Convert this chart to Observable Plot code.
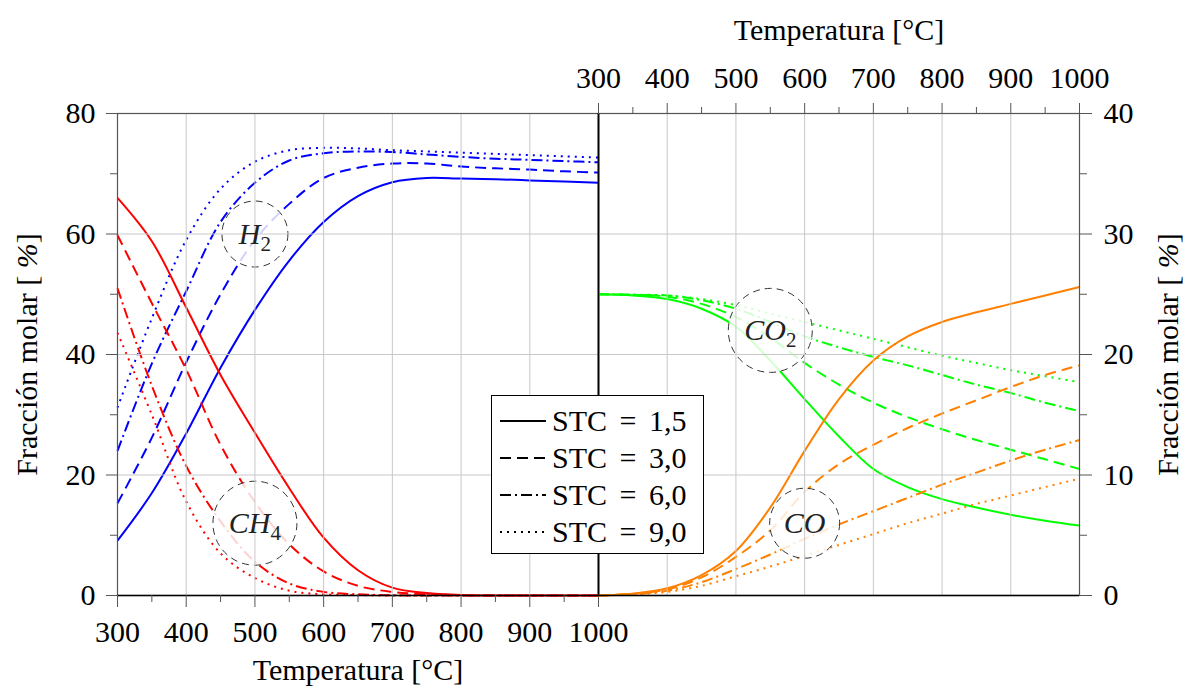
<!DOCTYPE html>
<html>
<head>
<meta charset="utf-8">
<script src="https://cdn.jsdelivr.net/npm/d3@7"></script>
<script src="https://cdn.jsdelivr.net/npm/@observablehq/plot@0.6"></script>
<style>
  html, body { margin: 0; padding: 0; background: #fff; overflow: hidden; }
  #chart { position: relative; width: 1184px; height: 688px; font-family: "Liberation Serif", serif; }
  #chart svg { position: absolute; left: 0; top: 0; }
  #legend { position: absolute; left: 491px; top: 395px; width: 213px; height: 159px; box-sizing: border-box;
            border: 1.5px solid #000; background: #fff; z-index: 5; }
  #legend .row { position: absolute; left: 0; height: 37px; display: flex; align-items: center; }
  #legend .row svg { position: static; margin-left: 8px; }
  #legend .row span { font-family: "Liberation Serif", serif; font-size: 30px; margin-left: 6px; word-spacing: 5px; line-height: 37px; }
</style>
</head>
<body>
<div id="chart"></div>
<script>
// Temperature grid [°C]
const temperatura = [300, 350, 400, 450, 500, 550, 600, 650, 700, 750, 800, 850, 900, 950, 1000];
// Steam-to-carbon ratios
const stcValues = ["1,5", "3,0", "6,0", "9,0"];

// H2 molar fraction [%] (left axis)
const h2_stc15 = [9.1, 17.0, 26.9, 37.8, 47.4, 55.6, 62.0, 66.3, 68.6, 69.3, 69.2, 69.1, 68.9, 68.7, 68.5];
const h2_stc30 = [15.3, 26.2, 38.7, 50.0, 59.0, 65.0, 69.3, 71.0, 71.7, 71.7, 71.2, 70.9, 70.7, 70.4, 70.2];
const h2_stc60 = [24.0, 38.5, 50.5, 62.0, 68.5, 72.2, 73.4, 73.7, 73.6, 73.2, 72.8, 72.5, 72.3, 72.1, 71.9];
const h2_stc90 = [31.2, 46.0, 59.0, 67.5, 72.0, 73.9, 74.3, 74.2, 73.9, 73.7, 73.5, 73.3, 73.1, 72.9, 72.7];

// CH4 molar fraction [%] (left axis)
const ch4_stc15 = [66.0, 58.8, 47.8, 36.6, 27.0, 17.8, 9.6, 4.2, 1.3, 0.4, 0.1, 0, 0, 0, 0];
const ch4_stc30 = [59.8, 48.5, 37.5, 25.0, 15.5, 8.5, 4.0, 1.6, 0.6, 0.2, 0.05, 0, 0, 0, 0];
const ch4_stc60 = [51.0, 34.8, 21.5, 12.3, 5.6, 2.0, 0.6, 0.2, 0.05, 0, 0, 0, 0, 0, 0];
const ch4_stc90 = [43.6, 30.0, 15.6, 7.0, 2.9, 0.8, 0.2, 0.05, 0, 0, 0, 0, 0, 0, 0];

// CO2 molar fraction [%] (right axis)
const co2_stc15 = [25.0, 24.9, 24.6, 23.8, 22.3, 19.5, 16.3, 13.2, 10.5, 9.0, 8.0, 7.3, 6.7, 6.2, 5.8];
const co2_stc30 = [25.0, 24.95, 24.8, 24.2, 23.1, 21.4, 19.3, 17.5, 16.0, 14.8, 13.8, 12.9, 12.1, 11.3, 10.5];
const co2_stc60 = [25.0, 24.95, 24.9, 24.5, 23.8, 22.7, 21.5, 20.6, 19.8, 19.1, 18.3, 17.5, 16.8, 16.0, 15.3];
const co2_stc90 = [25.0, 24.97, 24.9, 24.6, 24.1, 23.4, 22.7, 22.0, 21.3, 20.6, 19.9, 19.3, 18.7, 18.2, 17.7];

// CO molar fraction [%] (right axis)
const co_stc15 = [0, 0.15, 0.6, 1.7, 3.7, 7.3, 12.0, 16.3, 19.5, 21.5, 22.7, 23.5, 24.2, 24.9, 25.6];
const co_stc30 = [0, 0.15, 0.5, 1.5, 3.2, 5.4, 8.6, 10.9, 12.5, 13.9, 15.1, 16.2, 17.3, 18.3, 19.1];
const co_stc60 = [0, 0.1, 0.4, 1.1, 2.2, 3.4, 4.7, 5.9, 7.0, 8.1, 9.2, 10.2, 11.2, 12.1, 12.9];
const co_stc90 = [0, 0.1, 0.3, 0.8, 1.6, 2.4, 3.3, 4.2, 5.1, 6.0, 6.8, 7.6, 8.3, 9.0, 9.7];

// Ticks
const tempMajor = [300, 400, 500, 600, 700, 800, 900, 1000];
const tempMinor = [350, 450, 550, 650, 750, 850, 950];
const tempGrid = [400, 500, 600, 700, 800, 900];
const leftMajor = [0, 20, 40, 60, 80];
const leftMinor = [10, 30, 50, 70];
const leftGrid = [20, 40, 60];
const rightMajor = [0, 10, 20, 30, 40];
const rightMinor = [5, 15, 25, 35];
const rightGrid = [10, 20, 30];

// Species tags drawn in dashed circles
const leftTags = [
  {name: "H_2", T: 500, v: 60, r: 33},
  {name: "CH_4", T: 500, v: 12, r: 42}
];
const rightTags = [
  {name: "CO_2", T: 550, v: 22, r: 42},
  {name: "CO", T: 600, v: 6, r: 35}
];

const xTitle = "Temperatura [°C]";
const yTitle = "Fracción molar [ %]";

const dashes = {"1,5": null, "3,0": "11,6", "6,0": "11,4,2,4", "9,0": "2,5"};
const colors = {h2: "#0000ff", ch4: "#ff0000", co2: "#00ff00", co: "#ff8000"};
const font = "Liberation Serif";
const tickColor = "#555";

function series(values, stc) {
  return temperatura.map((T, i) => ({T, v: values[i], stc}));
}

function curves(list, color) {
  return list.map((vals, i) => {
    const stc = stcValues[i];
    const opts = {x: "T", y: "v", stroke: color, strokeWidth: 2, strokeLinecap: "butt", curve: "catmull-rom"};
    if (dashes[stc]) opts.strokeDasharray = dashes[stc];
    return Plot.line(series(vals, stc), opts);
  });
}

const fmt = d => String(d);
const txt = {fontFamily: font, fontSize: 30, fill: "#000"};

const left = Plot.plot({
  width: 1184, height: 688,
  marginLeft: 117, marginRight: 586, marginTop: 113, marginBottom: 93,
  x: {domain: [300, 1000]},
  y: {domain: [0, 80]},
  r: {type: "identity"},
  style: {fontFamily: font, fontSize: "30px", background: "transparent", color: "#000", overflow: "visible"},
  marks: [
    ...curves([h2_stc15, h2_stc30, h2_stc60, h2_stc90], colors.h2),
    ...curves([ch4_stc15, ch4_stc30, ch4_stc60, ch4_stc90], colors.ch4),
    Plot.dot(leftTags, {x: "T", y: "v", r: "r", fill: "white", fillOpacity: 0.82, stroke: "#333", strokeWidth: 1, strokeDasharray: "7,5"}),
    Plot.ruleX(tempGrid, {stroke: "#c8c8c8", strokeWidth: 1}),
    Plot.ruleY(leftGrid, {stroke: "#c8c8c8", strokeWidth: 1}),
    Plot.text(leftTags, {x: "T", y: "v", text: "name", ...txt, fill: "#222"}),
    Plot.frame({stroke: tickColor, strokeWidth: 1.2}),
    Plot.ruleY([0], {stroke: "#000", strokeWidth: 1.5}),
    Plot.ruleX([1000], {stroke: "#000", strokeWidth: 1.5}),
    Plot.axisX(tempMajor, {anchor: "bottom", tickSize: 12, tickPadding: 13, stroke: tickColor, tickFormat: fmt, label: null, ...txt}),
    Plot.axisX(tempMinor, {anchor: "bottom", tickSize: 7, stroke: tickColor, tickFormat: () => "", label: null}),
    Plot.axisY(leftMajor, {anchor: "left", tickSize: 11, tickPadding: 11, stroke: tickColor, tickFormat: fmt, label: null, ...txt}),
    Plot.axisY(leftMinor, {anchor: "left", tickSize: 7, stroke: tickColor, tickFormat: () => "", label: null}),
    Plot.text([xTitle], {text: d => d, frameAnchor: "bottom", lineAnchor: "middle", dy: 75, ...txt}),
    Plot.text([yTitle], {text: d => d, frameAnchor: "left", textAnchor: "middle", lineAnchor: "middle", rotate: -90, dx: -90, ...txt})
  ]
});

const right = Plot.plot({
  width: 1184, height: 688,
  marginLeft: 598, marginRight: 105, marginTop: 113, marginBottom: 93,
  x: {domain: [300, 1000]},
  y: {domain: [0, 40]},
  r: {type: "identity"},
  style: {fontFamily: font, fontSize: "30px", background: "transparent", color: "#000", overflow: "visible"},
  marks: [
    ...curves([co2_stc15, co2_stc30, co2_stc60, co2_stc90], colors.co2),
    ...curves([co_stc15, co_stc30, co_stc60, co_stc90], colors.co),
    Plot.dot(rightTags, {x: "T", y: "v", r: "r", fill: "white", fillOpacity: 0.82, stroke: "#333", strokeWidth: 1, strokeDasharray: "7,5"}),
    Plot.ruleX(tempGrid, {stroke: "#c8c8c8", strokeWidth: 1}),
    Plot.ruleY(rightGrid, {stroke: "#c8c8c8", strokeWidth: 1}),
    Plot.text(rightTags, {x: "T", y: "v", text: "name", ...txt, fill: "#222"}),
    Plot.frame({stroke: tickColor, strokeWidth: 1.2}),
    Plot.ruleY([0], {stroke: "#000", strokeWidth: 1.5}),
    Plot.ruleX([300], {stroke: "#000", strokeWidth: 1.5}),
    Plot.axisX(tempMajor, {anchor: "top", tickSize: 11, tickPadding: 15, stroke: tickColor, tickFormat: fmt, label: null, ...txt}),
    Plot.axisX(tempMinor, {anchor: "top", tickSize: 7, stroke: tickColor, tickFormat: () => "", label: null}),
    Plot.axisY(rightMajor, {anchor: "right", tickSize: 12, tickPadding: 12, stroke: tickColor, tickFormat: fmt, label: null, ...txt}),
    Plot.axisY(rightMinor, {anchor: "right", tickSize: 7, stroke: tickColor, tickFormat: () => "", label: null}),
    Plot.text([xTitle], {text: d => d, frameAnchor: "top", lineAnchor: "middle", dy: -83, ...txt}),
    Plot.text([yTitle], {text: d => d, frameAnchor: "right", textAnchor: "middle", lineAnchor: "middle", rotate: -90, dx: 89, ...txt})
  ]
});

// Math-style labels: italic letters with upright subscripts, italic percent sign
function typeset(svg) {
  d3.select(svg).selectAll("text").each(function () {
    const el = d3.select(this);
    if (this.querySelector("tspan")) return;
    const s = this.textContent;
    if (leftTags.concat(rightTags).some(t => t.name === s)) {
      const [base, sub] = s.split("_");
      el.text(null);
      el.append("tspan").attr("font-style", "italic").text(base);
      if (sub) {
        el.append("tspan").attr("font-size", 21).attr("dy", 7).text(sub);
      }
    } else if (s === yTitle) {
      const i = s.indexOf("%");
      el.text(null);
      el.append("tspan").text(s.slice(0, i));
      el.append("tspan").attr("font-style", "italic").text("%");
      el.append("tspan").text(s.slice(i + 1));
    }
  });
}
typeset(left);
typeset(right);

const chart = document.getElementById("chart");
chart.appendChild(left);
chart.appendChild(right);

// Legend for the steam-to-carbon ratios
const legend = d3.select(chart).append("div").attr("id", "legend");
stcValues.forEach((stc, i) => {
  const row = legend.append("div").attr("class", "row").style("top", `${6 + i * 37}px`);
  const s = row.append("svg").attr("width", 46).attr("height", 12);
  const ln = s.append("line").attr("x1", 0).attr("x2", 46).attr("y1", 6).attr("y2", 6)
    .attr("stroke", "#000").attr("stroke-width", 2);
  if (dashes[stc]) ln.attr("stroke-dasharray", dashes[stc]);
  row.append("span").text(`STC = ${stc}`);
});
</script>
</body>
</html>
